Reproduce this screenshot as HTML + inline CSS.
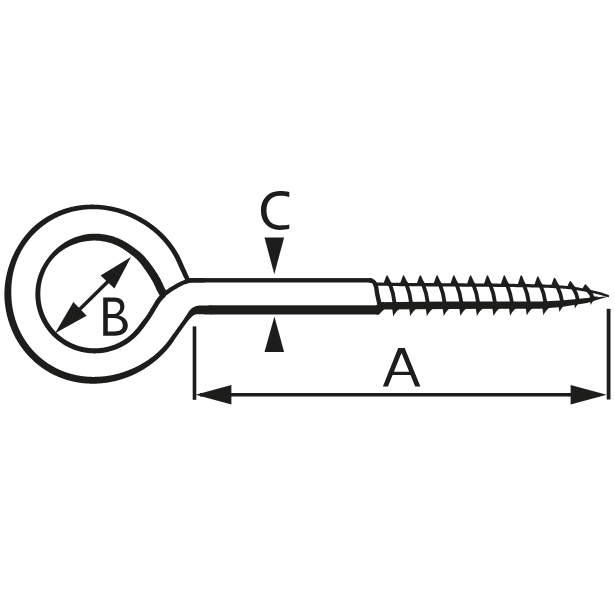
<!DOCTYPE html>
<html><head><meta charset="utf-8"><style>
html,body{margin:0;padding:0;background:#fff;}
body{width:615px;height:615px;overflow:hidden;}
svg{display:block;}
text{font-family:"Liberation Sans",sans-serif;fill:#1d1d1b;}
</style></head><body>
<svg width="615" height="615" viewBox="0 0 615 615">
<rect width="615" height="615" fill="#fff"/>
<g fill="#1d1d1b">
<path d="M190.37,279.99 L189.99,279.18 L189.69,278.53 L189.43,277.95 L189.17,277.39 L188.89,276.79 L188.63,276.24 L188.39,275.70 L188.15,275.19 L187.92,274.68 L187.68,274.17 L187.45,273.65 L187.22,273.14 L186.99,272.63 L186.76,272.13 L186.52,271.61 L186.28,271.08 L186.04,270.54 L185.79,270.00 L185.54,269.45 L185.29,268.89 L185.04,268.33 L184.79,267.78 L184.55,267.24 L184.31,266.71 L184.08,266.20 L183.85,265.69 L183.63,265.19 L183.41,264.70 L183.19,264.21 L182.98,263.74 L182.76,263.26 L182.55,262.78 L182.34,262.30 L182.12,261.82 L181.90,261.33 L181.69,260.85 L181.47,260.36 L181.25,259.87 L181.02,259.38 L180.79,258.88 L180.55,258.37 L180.31,257.86 L180.05,257.33 L179.79,256.80 L179.53,256.28 L179.26,255.76 L178.99,255.22 L178.69,254.68 L178.39,254.12 L178.07,253.56 L177.75,253.01 L177.44,252.47 L177.12,251.94 L176.80,251.41 L176.47,250.87 L176.15,250.36 L175.85,249.87 L175.55,249.40 L175.26,248.95 L174.96,248.51 L174.67,248.07 L174.37,247.62 L174.07,247.19 L173.77,246.75 L173.47,246.31 L173.16,245.88 L172.85,245.45 L172.54,245.02 L172.23,244.59 L171.91,244.16 L171.59,243.74 L171.27,243.32 L170.95,242.90 L170.62,242.48 L170.30,242.07 L169.97,241.65 L169.63,241.24 L169.30,240.83 L168.96,240.43 L168.62,240.02 L168.28,239.62 L167.94,239.22 L167.59,238.82 L167.25,238.42 L166.90,238.03 L166.54,237.64 L166.19,237.25 L165.84,236.86 L165.48,236.47 L165.12,236.09 L164.76,235.71 L164.39,235.33 L164.03,234.95 L163.66,234.58 L163.29,234.20 L162.92,233.83 L162.54,233.47 L162.17,233.10 L161.79,232.74 L161.41,232.37 L161.03,232.01 L160.65,231.66 L160.27,231.30 L159.88,230.95 L159.49,230.60 L159.10,230.25 L158.71,229.90 L158.32,229.56 L157.92,229.22 L157.53,228.88 L157.13,228.54 L156.73,228.20 L156.33,227.87 L155.93,227.54 L155.52,227.21 L155.12,226.88 L154.71,226.56 L154.30,226.24 L153.89,225.92 L153.48,225.60 L153.06,225.29 L152.65,224.97 L152.23,224.66 L151.81,224.35 L151.39,224.05 L150.97,223.74 L150.55,223.44 L150.13,223.14 L149.70,222.84 L149.27,222.55 L148.84,222.26 L148.41,221.96 L147.98,221.68 L147.55,221.39 L147.12,221.11 L146.68,220.82 L146.25,220.55 L145.81,220.27 L145.37,219.99 L144.93,219.72 L144.49,219.45 L144.04,219.18 L143.60,218.92 L143.16,218.65 L142.71,218.39 L142.26,218.13 L141.81,217.88 L141.36,217.62 L140.91,217.37 L140.46,217.12 L140.00,216.88 L139.55,216.63 L139.09,216.39 L138.63,216.15 L138.17,215.91 L137.71,215.67 L137.25,215.44 L136.79,215.21 L136.33,214.98 L135.86,214.75 L135.40,214.53 L134.93,214.31 L134.46,214.09 L134.00,213.87 L133.53,213.66 L133.06,213.45 L132.58,213.24 L132.11,213.03 L131.64,212.82 L131.16,212.62 L130.69,212.42 L130.21,212.22 L129.73,212.03 L129.25,211.83 L128.77,211.64 L128.29,211.45 L127.81,211.27 L127.33,211.08 L126.84,210.90 L126.36,210.72 L125.87,210.55 L125.38,210.37 L124.90,210.20 L124.41,210.03 L123.92,209.87 L123.43,209.70 L122.94,209.54 L122.44,209.38 L121.95,209.23 L121.46,209.07 L120.96,208.92 L120.47,208.77 L119.97,208.62 L119.47,208.48 L118.98,208.34 L118.48,208.20 L117.98,208.06 L117.48,207.93 L116.98,207.80 L116.48,207.67 L115.97,207.54 L115.47,207.42 L114.96,207.30 L114.46,207.18 L113.95,207.06 L113.45,206.95 L112.94,206.84 L112.43,206.73 L111.93,206.62 L111.42,206.52 L110.91,206.42 L110.40,206.32 L109.89,206.23 L109.37,206.14 L108.86,206.05 L108.35,205.96 L107.84,205.88 L107.32,205.79 L106.81,205.72 L106.29,205.64 L105.78,205.57 L105.26,205.50 L104.74,205.43 L104.23,205.36 L103.71,205.30 L103.19,205.24 L102.67,205.18 L102.15,205.13 L101.63,205.08 L101.11,205.03 L100.59,204.99 L100.07,204.94 L99.55,204.90 L99.03,204.86 L98.51,204.83 L97.98,204.79 L97.46,204.76 L96.94,204.74 L96.42,204.71 L95.89,204.69 L95.37,204.67 L94.84,204.65 L94.32,204.64 L93.80,204.62 L93.27,204.62 L92.75,204.61 L92.22,204.61 L91.69,204.61 L91.17,204.61 L90.64,204.61 L90.12,204.62 L89.59,204.63 L89.06,204.65 L88.54,204.67 L88.01,204.69 L87.48,204.71 L86.96,204.74 L86.43,204.76 L85.90,204.80 L85.38,204.83 L84.85,204.87 L84.32,204.91 L83.80,204.96 L83.27,205.01 L82.74,205.06 L82.22,205.11 L81.69,205.17 L81.16,205.23 L80.64,205.29 L80.11,205.36 L79.59,205.43 L79.06,205.50 L78.54,205.58 L78.01,205.66 L77.49,205.74 L76.96,205.83 L76.44,205.91 L75.91,206.01 L75.39,206.10 L74.87,206.20 L74.35,206.30 L73.82,206.41 L73.30,206.51 L72.78,206.63 L72.26,206.74 L71.74,206.86 L71.22,206.98 L70.70,207.10 L70.18,207.23 L69.66,207.36 L69.15,207.49 L68.63,207.63 L68.12,207.77 L67.60,207.91 L67.09,208.06 L66.57,208.21 L66.06,208.36 L65.55,208.52 L65.04,208.68 L64.53,208.84 L64.02,209.01 L63.51,209.18 L63.00,209.35 L62.49,209.53 L61.99,209.71 L61.48,209.89 L60.98,210.07 L60.47,210.26 L59.97,210.45 L59.47,210.65 L58.97,210.85 L58.47,211.05 L57.98,211.25 L57.48,211.46 L56.98,211.67 L56.49,211.89 L56.00,212.10 L55.51,212.32 L55.02,212.55 L54.53,212.77 L54.04,213.00 L53.55,213.24 L53.07,213.47 L52.58,213.71 L52.10,213.96 L51.62,214.20 L51.14,214.45 L50.67,214.70 L50.19,214.96 L49.71,215.22 L49.24,215.48 L48.77,215.74 L48.30,216.01 L47.83,216.28 L47.37,216.55 L46.90,216.83 L46.44,217.11 L45.98,217.39 L45.52,217.68 L45.06,217.97 L44.60,218.26 L44.15,218.55 L43.70,218.85 L43.24,219.15 L42.80,219.46 L42.35,219.76 L41.90,220.07 L41.46,220.38 L41.02,220.70 L40.58,221.02 L40.14,221.34 L39.71,221.66 L39.27,221.99 L38.84,222.32 L38.41,222.65 L37.99,222.98 L37.56,223.32 L37.14,223.66 L36.72,224.01 L36.30,224.35 L35.88,224.70 L35.47,225.05 L35.06,225.41 L34.65,225.77 L34.24,226.13 L33.84,226.49 L33.44,226.86 L33.04,227.23 L32.65,227.60 L32.25,227.98 L31.86,228.36 L31.48,228.74 L31.09,229.12 L30.71,229.51 L30.33,229.90 L29.95,230.29 L29.58,230.68 L29.21,231.08 L28.84,231.48 L28.47,231.88 L28.11,232.28 L27.75,232.69 L27.39,233.10 L27.03,233.51 L26.68,233.92 L26.32,234.33 L25.98,234.75 L25.63,235.17 L25.29,235.59 L24.95,236.01 L24.61,236.44 L24.27,236.87 L23.94,237.29 L23.61,237.73 L23.28,238.16 L22.96,238.60 L22.64,239.03 L22.32,239.47 L22.00,239.91 L21.69,240.36 L21.38,240.80 L21.07,241.25 L20.77,241.70 L20.46,242.15 L20.16,242.60 L19.87,243.06 L19.57,243.51 L19.28,243.97 L19.00,244.43 L18.71,244.89 L18.43,245.36 L18.15,245.82 L17.87,246.29 L17.59,246.75 L17.32,247.22 L17.05,247.69 L16.78,248.16 L16.51,248.63 L16.24,249.10 L15.98,249.58 L15.72,250.06 L15.46,250.53 L15.21,251.01 L14.96,251.49 L14.71,251.97 L14.46,252.46 L14.22,252.94 L13.98,253.43 L13.74,253.91 L13.51,254.40 L13.27,254.89 L13.05,255.38 L12.82,255.88 L12.60,256.37 L12.38,256.87 L12.16,257.36 L11.94,257.86 L11.73,258.36 L11.52,258.86 L11.32,259.36 L11.12,259.86 L10.92,260.37 L10.72,260.87 L10.53,261.38 L10.34,261.89 L10.15,262.40 L9.97,262.91 L9.78,263.42 L9.61,263.93 L9.43,264.44 L9.26,264.95 L9.09,265.47 L8.92,265.98 L8.76,266.50 L8.60,267.02 L8.44,267.54 L8.29,268.06 L8.14,268.58 L7.99,269.10 L7.84,269.62 L7.70,270.14 L7.56,270.67 L7.42,271.19 L7.29,271.71 L7.15,272.24 L7.02,272.77 L6.90,273.29 L6.77,273.82 L6.65,274.35 L6.54,274.88 L6.42,275.41 L6.31,275.94 L6.20,276.47 L6.10,277.00 L5.99,277.53 L5.90,278.06 L5.80,278.60 L5.71,279.13 L5.62,279.67 L5.53,280.20 L5.45,280.74 L5.36,281.27 L5.29,281.81 L5.21,282.35 L5.14,282.88 L5.07,283.42 L5.01,283.96 L4.94,284.50 L4.89,285.04 L4.83,285.58 L4.78,286.12 L4.73,286.66 L4.68,287.20 L4.64,287.74 L4.60,288.28 L4.56,288.82 L4.53,289.36 L4.50,289.90 L4.47,290.44 L4.45,290.98 L4.43,291.53 L4.41,292.07 L4.40,292.61 L4.39,293.15 L4.39,293.69 L4.38,294.24 L4.38,294.78 L4.39,295.32 L4.40,295.86 L4.41,296.41 L4.43,296.95 L4.45,297.49 L4.47,298.03 L4.50,298.57 L4.53,299.11 L4.57,299.66 L4.61,300.20 L4.65,300.74 L4.69,301.28 L4.74,301.82 L4.79,302.36 L4.84,302.90 L4.90,303.44 L4.96,303.98 L5.02,304.51 L5.09,305.05 L5.16,305.59 L5.23,306.13 L5.30,306.66 L5.38,307.20 L5.46,307.74 L5.55,308.27 L5.63,308.81 L5.72,309.34 L5.82,309.88 L5.91,310.41 L6.01,310.94 L6.11,311.47 L6.22,312.01 L6.33,312.54 L6.44,313.07 L6.55,313.60 L6.67,314.13 L6.79,314.66 L6.92,315.18 L7.04,315.71 L7.17,316.24 L7.30,316.76 L7.44,317.29 L7.58,317.81 L7.72,318.34 L7.87,318.86 L8.01,319.38 L8.16,319.90 L8.32,320.42 L8.48,320.94 L8.64,321.46 L8.80,321.98 L8.96,322.49 L9.13,323.01 L9.31,323.52 L9.48,324.04 L9.66,324.55 L9.84,325.06 L10.02,325.57 L10.21,326.08 L10.40,326.59 L10.59,327.10 L10.79,327.60 L10.99,328.11 L11.19,328.61 L11.40,329.11 L11.60,329.62 L11.81,330.12 L12.03,330.62 L12.24,331.11 L12.46,331.61 L12.69,332.10 L12.91,332.60 L13.14,333.09 L13.37,333.58 L13.61,334.07 L13.84,334.56 L14.08,335.05 L14.33,335.53 L14.57,336.02 L14.82,336.50 L15.07,336.98 L15.33,337.46 L15.59,337.94 L15.85,338.42 L16.11,338.89 L16.38,339.37 L16.65,339.84 L16.92,340.31 L17.19,340.78 L17.47,341.24 L17.75,341.71 L18.04,342.17 L18.32,342.63 L18.61,343.09 L18.90,343.55 L19.20,344.01 L19.49,344.46 L19.79,344.92 L20.10,345.37 L20.40,345.82 L20.71,346.27 L21.02,346.71 L21.34,347.16 L21.65,347.60 L21.97,348.04 L22.29,348.48 L22.62,348.91 L22.95,349.35 L23.28,349.78 L23.61,350.21 L23.94,350.63 L24.28,351.06 L24.62,351.48 L24.97,351.91 L25.31,352.33 L25.66,352.74 L26.01,353.16 L26.36,353.57 L26.72,353.98 L27.08,354.39 L27.44,354.80 L27.80,355.20 L28.17,355.60 L28.54,356.00 L28.91,356.40 L29.28,356.79 L29.66,357.18 L30.04,357.57 L30.42,357.96 L30.80,358.35 L31.19,358.73 L31.58,359.11 L31.97,359.49 L32.36,359.86 L32.75,360.24 L33.15,360.61 L33.55,360.97 L33.95,361.34 L34.36,361.70 L34.76,362.06 L35.17,362.42 L35.58,362.78 L36.00,363.13 L36.41,363.48 L36.83,363.82 L37.25,364.17 L37.67,364.51 L38.09,364.85 L38.52,365.19 L38.95,365.52 L39.38,365.85 L39.81,366.18 L40.24,366.50 L40.68,366.83 L41.12,367.15 L41.56,367.46 L42.00,367.78 L42.44,368.09 L42.89,368.40 L43.33,368.70 L43.78,369.01 L44.23,369.31 L44.69,369.60 L45.14,369.90 L45.60,370.19 L46.06,370.48 L46.52,370.76 L46.98,371.04 L47.44,371.32 L47.91,371.60 L48.37,371.87 L48.84,372.14 L49.31,372.41 L49.78,372.67 L50.26,372.93 L50.73,373.19 L51.21,373.45 L51.69,373.70 L52.17,373.95 L52.65,374.19 L53.13,374.44 L53.61,374.68 L54.10,374.91 L54.59,375.15 L55.07,375.38 L55.56,375.60 L56.05,375.83 L56.55,376.05 L57.04,376.26 L57.53,376.48 L58.03,376.69 L58.52,376.90 L59.02,377.10 L59.52,377.31 L60.02,377.50 L60.52,377.70 L61.02,377.89 L61.53,378.08 L62.03,378.27 L62.54,378.45 L63.04,378.63 L63.55,378.81 L64.06,378.98 L64.57,379.15 L65.08,379.32 L65.59,379.48 L66.10,379.64 L66.61,379.80 L67.13,379.96 L67.64,380.11 L68.16,380.25 L68.67,380.40 L69.19,380.54 L69.70,380.68 L70.22,380.82 L70.74,380.95 L71.26,381.08 L71.78,381.20 L72.30,381.33 L72.82,381.45 L73.34,381.56 L73.86,381.68 L74.38,381.79 L74.91,381.89 L75.43,382.00 L75.95,382.10 L76.48,382.20 L77.00,382.29 L77.53,382.38 L78.05,382.47 L78.58,382.56 L79.10,382.64 L79.63,382.72 L80.16,382.79 L80.68,382.87 L81.21,382.94 L81.74,383.00 L82.26,383.07 L82.79,383.13 L83.32,383.18 L83.85,383.24 L84.38,383.29 L84.90,383.34 L85.43,383.38 L85.96,383.42 L86.49,383.46 L87.02,383.50 L87.54,383.53 L88.07,383.56 L88.60,383.59 L89.13,383.61 L89.66,383.63 L90.19,383.65 L90.71,383.67 L91.24,383.68 L91.77,383.69 L92.30,383.69 L92.83,383.70 L93.35,383.70 L93.88,383.69 L94.41,383.69 L94.93,383.68 L95.46,383.67 L95.99,383.65 L96.51,383.63 L97.04,383.61 L97.56,383.59 L98.09,383.56 L98.61,383.53 L99.14,383.50 L99.66,383.46 L100.19,383.42 L100.71,383.37 L101.23,383.33 L101.76,383.28 L102.28,383.23 L102.80,383.17 L103.32,383.12 L103.84,383.06 L104.36,382.99 L104.88,382.93 L105.40,382.86 L105.92,382.79 L106.44,382.71 L106.95,382.64 L107.47,382.56 L107.99,382.48 L108.50,382.39 L109.02,382.30 L109.53,382.21 L110.05,382.12 L110.56,382.02 L111.07,381.93 L111.59,381.83 L112.10,381.72 L112.61,381.62 L113.12,381.51 L113.63,381.40 L114.14,381.28 L114.64,381.16 L115.15,381.05 L115.66,380.92 L116.16,380.80 L116.67,380.67 L117.17,380.54 L117.68,380.41 L118.18,380.28 L118.68,380.14 L119.18,380.00 L119.68,379.86 L120.18,379.71 L120.68,379.56 L121.18,379.41 L121.68,379.26 L122.17,379.10 L122.67,378.95 L123.16,378.79 L123.66,378.62 L124.15,378.46 L124.64,378.29 L125.13,378.12 L125.62,377.95 L126.11,377.77 L126.60,377.59 L127.08,377.41 L127.57,377.23 L128.05,377.04 L128.54,376.85 L129.02,376.65 L129.50,376.46 L129.98,376.26 L130.46,376.06 L130.94,375.85 L131.41,375.65 L131.89,375.44 L132.36,375.23 L132.83,375.01 L133.31,374.80 L133.78,374.58 L134.25,374.36 L134.72,374.14 L135.18,373.91 L135.65,373.68 L136.11,373.45 L136.58,373.22 L137.04,372.99 L137.50,372.75 L137.96,372.51 L138.42,372.27 L138.88,372.02 L139.34,371.78 L139.79,371.53 L140.25,371.28 L140.70,371.02 L141.15,370.77 L141.60,370.51 L142.05,370.25 L142.50,369.98 L142.95,369.72 L143.39,369.45 L143.84,369.18 L144.28,368.91 L144.72,368.64 L145.16,368.36 L145.60,368.08 L146.04,367.80 L146.48,367.52 L146.91,367.23 L147.34,366.94 L147.78,366.65 L148.21,366.36 L148.63,366.06 L149.06,365.77 L149.49,365.47 L149.91,365.17 L150.34,364.86 L150.76,364.56 L151.18,364.25 L151.60,363.94 L152.01,363.62 L152.43,363.31 L152.84,362.99 L153.26,362.67 L153.67,362.35 L154.08,362.03 L154.49,361.70 L154.89,361.37 L155.30,361.04 L155.70,360.71 L156.10,360.38 L156.50,360.04 L156.90,359.71 L157.30,359.37 L157.70,359.02 L158.09,358.68 L158.48,358.33 L158.87,357.98 L159.26,357.63 L159.65,357.28 L160.03,356.92 L160.42,356.56 L160.80,356.20 L161.18,355.84 L161.55,355.48 L161.93,355.11 L162.30,354.74 L162.68,354.37 L163.05,354.00 L163.41,353.62 L163.78,353.24 L164.14,352.86 L164.51,352.48 L164.87,352.10 L165.22,351.71 L165.58,351.32 L165.93,350.93 L166.28,350.54 L166.63,350.14 L166.98,349.75 L167.33,349.35 L167.67,348.95 L168.01,348.54 L168.35,348.14 L168.68,347.73 L169.02,347.32 L169.35,346.91 L169.68,346.50 L170.01,346.08 L170.33,345.66 L170.65,345.24 L170.97,344.82 L171.29,344.39 L171.61,343.96 L171.92,343.53 L172.24,343.09 L172.54,342.66 L172.85,342.21 L173.15,341.77 L173.45,341.33 L173.74,340.89 L174.03,340.45 L174.32,340.01 L174.60,339.58 L174.89,339.15 L175.18,338.71 L175.48,338.27 L175.78,337.83 L176.09,337.38 L176.41,336.92 L176.74,336.44 L177.09,335.95 L177.45,335.45 L177.80,334.95 L178.15,334.46 L178.50,333.98 L178.85,333.49 L179.19,333.02 L179.52,332.56 L179.84,332.11 L180.16,331.67 L180.47,331.24 L180.78,330.80 L181.09,330.37 L181.41,329.93 L181.72,329.48 L182.04,329.04 L182.37,328.59 L182.69,328.14 L183.01,327.69 L183.34,327.23 L183.66,326.78 L183.98,326.33 L184.31,325.88 L184.63,325.44 L184.95,324.99 L185.26,324.55 L185.58,324.12 L185.89,323.68 L186.21,323.25 L186.53,322.82 L186.85,322.40 L187.17,321.98 L187.50,321.56 L187.83,321.15 L188.16,320.74 L188.51,320.32 L188.87,319.91 L189.24,319.48 L189.63,319.05 L190.04,318.61 L190.48,318.15 L190.93,317.70 L191.40,317.24 L191.88,316.78 L192.36,316.35 L192.84,315.95 L193.31,315.59 L193.78,315.28 L194.22,315.02 L194.64,314.81 L195.05,314.65 L195.45,314.52 L195.85,314.42 L196.27,314.35 L196.70,314.30 L197.15,314.25 L197.61,314.22 L198.10,314.20 L198.61,314.19 L199.13,314.19 L199.65,314.19 L200.16,314.21 L200.67,314.22 L201.20,314.24 L201.73,314.27 L202.27,314.30 L202.81,314.32 L203.35,314.35 L203.89,314.37 L204.44,314.38 L205.00,314.40 L205.56,314.41 L206.12,314.41 L206.67,314.42 L207.22,314.42 L207.77,314.42 L208.32,314.42 L208.90,314.43 L209.50,314.43 L210.07,314.44 L210.64,314.44 L211.26,314.44 L212.00,314.45 L212.00,305.35 L211.26,305.36 L210.64,305.36 L210.07,305.36 L209.50,305.37 L208.90,305.37 L208.32,305.37 L207.77,305.38 L207.22,305.38 L206.67,305.38 L206.13,305.39 L205.60,305.39 L205.07,305.39 L204.54,305.40 L204.03,305.40 L203.52,305.40 L203.00,305.40 L202.45,305.40 L201.85,305.41 L201.20,305.42 L200.52,305.44 L199.79,305.49 L199.04,305.57 L198.26,305.68 L197.46,305.83 L196.62,306.03 L195.79,306.28 L194.96,306.58 L194.14,306.93 L193.35,307.34 L192.58,307.80 L191.85,308.31 L191.15,308.86 L190.52,309.46 L189.93,310.08 L189.40,310.72 L188.91,311.37 L188.46,312.02 L188.04,312.65 L187.65,313.27 L187.26,313.89 L186.89,314.47 L186.53,315.04 L186.18,315.59 L185.84,316.11 L185.51,316.62 L185.18,317.11 L184.87,317.60 L184.56,318.06 L184.26,318.51 L183.95,318.96 L183.65,319.40 L183.34,319.84 L183.04,320.28 L182.73,320.72 L182.41,321.16 L182.10,321.60 L181.78,322.04 L181.46,322.48 L181.14,322.92 L180.82,323.37 L180.49,323.82 L180.17,324.28 L179.84,324.73 L179.52,325.18 L179.19,325.63 L178.87,326.08 L178.55,326.53 L178.23,326.98 L177.91,327.42 L177.60,327.86 L177.28,328.30 L176.97,328.73 L176.66,329.16 L176.35,329.60 L176.03,330.04 L175.70,330.50 L175.36,330.96 L175.01,331.44 L174.65,331.92 L174.30,332.40 L173.93,332.90 L173.56,333.40 L173.20,333.89 L172.85,334.37 L172.51,334.84 L172.17,335.30 L171.85,335.75 L171.54,336.20 L171.22,336.65 L170.92,337.08 L170.62,337.51 L170.33,337.94 L170.03,338.36 L169.74,338.78 L169.44,339.19 L169.15,339.60 L168.85,340.01 L168.55,340.42 L168.25,340.82 L167.95,341.22 L167.64,341.61 L167.33,342.01 L167.02,342.40 L166.70,342.79 L166.38,343.18 L166.06,343.56 L165.74,343.95 L165.42,344.33 L165.09,344.71 L164.76,345.09 L164.43,345.46 L164.10,345.84 L163.76,346.21 L163.43,346.58 L163.09,346.95 L162.75,347.31 L162.41,347.68 L162.06,348.04 L161.71,348.40 L161.37,348.76 L161.02,349.11 L160.66,349.47 L160.31,349.82 L159.95,350.17 L159.60,350.52 L159.24,350.86 L158.88,351.20 L158.51,351.54 L158.15,351.88 L157.78,352.22 L157.41,352.55 L157.04,352.89 L156.67,353.22 L156.30,353.54 L155.92,353.87 L155.55,354.19 L155.17,354.51 L154.79,354.83 L154.41,355.15 L154.03,355.46 L153.64,355.78 L153.26,356.09 L152.87,356.40 L152.48,356.70 L152.09,357.01 L151.69,357.31 L151.30,357.60 L150.90,357.90 L150.51,358.19 L150.11,358.49 L149.71,358.77 L149.30,359.06 L148.90,359.35 L148.50,359.63 L148.09,359.91 L147.68,360.19 L147.27,360.46 L146.86,360.73 L146.45,361.01 L146.04,361.27 L145.62,361.54 L145.21,361.80 L144.79,362.07 L144.37,362.33 L143.95,362.58 L143.53,362.84 L143.11,363.09 L142.69,363.34 L142.27,363.59 L141.84,363.84 L141.41,364.08 L140.99,364.32 L140.56,364.56 L140.13,364.80 L139.70,365.03 L139.27,365.26 L138.83,365.49 L138.40,365.72 L137.96,365.95 L137.53,366.17 L137.09,366.39 L136.65,366.61 L136.21,366.83 L135.77,367.04 L135.33,367.25 L134.89,367.46 L134.45,367.67 L134.00,367.88 L133.56,368.08 L133.11,368.28 L132.66,368.48 L132.22,368.67 L131.77,368.87 L131.32,369.06 L130.87,369.25 L130.42,369.43 L129.97,369.62 L129.51,369.80 L129.06,369.98 L128.60,370.16 L128.15,370.33 L127.69,370.51 L127.23,370.68 L126.78,370.85 L126.32,371.01 L125.86,371.18 L125.40,371.34 L124.94,371.50 L124.48,371.66 L124.02,371.82 L123.56,371.98 L123.09,372.13 L122.63,372.28 L122.17,372.43 L121.70,372.58 L121.24,372.72 L120.77,372.86 L120.30,373.00 L119.83,373.14 L119.37,373.27 L118.90,373.41 L118.43,373.54 L117.96,373.66 L117.49,373.79 L117.01,373.91 L116.54,374.03 L116.07,374.15 L115.60,374.27 L115.12,374.38 L114.65,374.49 L114.17,374.60 L113.70,374.71 L113.22,374.81 L112.74,374.91 L112.27,375.01 L111.79,375.11 L111.31,375.20 L110.83,375.29 L110.35,375.38 L109.87,375.47 L109.39,375.55 L108.91,375.63 L108.43,375.71 L107.95,375.79 L107.47,375.86 L106.98,375.93 L106.50,376.00 L106.02,376.06 L105.53,376.13 L105.05,376.19 L104.56,376.25 L104.08,376.30 L103.59,376.36 L103.11,376.41 L102.62,376.45 L102.14,376.50 L101.65,376.54 L101.16,376.58 L100.68,376.62 L100.19,376.65 L99.70,376.69 L99.21,376.72 L98.73,376.74 L98.24,376.77 L97.75,376.79 L97.26,376.81 L96.77,376.83 L96.29,376.84 L95.80,376.86 L95.31,376.87 L94.82,376.88 L94.33,376.88 L93.84,376.88 L93.35,376.88 L92.86,376.88 L92.37,376.88 L91.88,376.87 L91.39,376.86 L90.90,376.84 L90.41,376.83 L89.92,376.81 L89.43,376.79 L88.94,376.76 L88.46,376.74 L87.97,376.71 L87.48,376.67 L86.99,376.64 L86.50,376.60 L86.01,376.56 L85.52,376.51 L85.03,376.47 L84.54,376.42 L84.06,376.37 L83.57,376.31 L83.08,376.25 L82.59,376.19 L82.10,376.13 L81.62,376.06 L81.13,375.99 L80.65,375.92 L80.16,375.84 L79.67,375.77 L79.19,375.69 L78.70,375.60 L78.22,375.51 L77.74,375.43 L77.25,375.33 L76.77,375.24 L76.29,375.14 L75.80,375.04 L75.32,374.93 L74.84,374.83 L74.36,374.72 L73.88,374.61 L73.40,374.49 L72.92,374.37 L72.44,374.25 L71.97,374.13 L71.49,374.00 L71.01,373.87 L70.54,373.74 L70.06,373.60 L69.59,373.46 L69.12,373.32 L68.65,373.18 L68.17,373.03 L67.70,372.88 L67.23,372.72 L66.76,372.57 L66.30,372.41 L65.83,372.25 L65.36,372.08 L64.90,371.92 L64.43,371.75 L63.97,371.57 L63.51,371.40 L63.05,371.22 L62.59,371.03 L62.13,370.85 L61.67,370.66 L61.21,370.47 L60.75,370.28 L60.30,370.08 L59.85,369.88 L59.39,369.68 L58.94,369.48 L58.49,369.27 L58.04,369.06 L57.59,368.84 L57.15,368.63 L56.70,368.41 L56.26,368.19 L55.82,367.96 L55.37,367.74 L54.93,367.51 L54.50,367.28 L54.06,367.04 L53.62,366.80 L53.19,366.56 L52.76,366.32 L52.32,366.07 L51.89,365.82 L51.47,365.57 L51.04,365.32 L50.61,365.06 L50.19,364.80 L49.77,364.54 L49.34,364.27 L48.92,364.01 L48.51,363.74 L48.09,363.46 L47.68,363.19 L47.26,362.91 L46.85,362.63 L46.44,362.35 L46.04,362.06 L45.63,361.77 L45.23,361.48 L44.82,361.19 L44.42,360.89 L44.02,360.59 L43.63,360.29 L43.23,359.99 L42.84,359.68 L42.45,359.37 L42.06,359.06 L41.67,358.74 L41.29,358.43 L40.90,358.11 L40.52,357.79 L40.14,357.46 L39.76,357.14 L39.39,356.81 L39.02,356.48 L38.64,356.15 L38.27,355.81 L37.91,355.47 L37.54,355.13 L37.18,354.79 L36.82,354.44 L36.46,354.10 L36.10,353.75 L35.75,353.39 L35.40,353.04 L35.05,352.68 L34.70,352.33 L34.35,351.96 L34.01,351.60 L33.67,351.24 L33.33,350.87 L32.99,350.50 L32.66,350.13 L32.32,349.75 L31.99,349.38 L31.67,349.00 L31.34,348.62 L31.02,348.24 L30.70,347.86 L30.38,347.47 L30.06,347.08 L29.75,346.69 L29.44,346.30 L29.13,345.91 L28.82,345.51 L28.52,345.11 L28.22,344.71 L27.92,344.31 L27.62,343.91 L27.33,343.50 L27.04,343.10 L26.75,342.69 L26.46,342.28 L26.18,341.86 L25.90,341.45 L25.62,341.03 L25.34,340.62 L25.07,340.20 L24.80,339.78 L24.53,339.35 L24.26,338.93 L24.00,338.50 L23.74,338.08 L23.48,337.65 L23.22,337.22 L22.97,336.78 L22.72,336.35 L22.47,335.92 L22.22,335.48 L21.98,335.04 L21.74,334.60 L21.50,334.16 L21.27,333.72 L21.03,333.27 L20.80,332.83 L20.58,332.38 L20.35,331.93 L20.13,331.48 L19.91,331.03 L19.70,330.58 L19.48,330.13 L19.27,329.67 L19.06,329.22 L18.86,328.76 L18.65,328.30 L18.45,327.84 L18.26,327.38 L18.06,326.92 L17.87,326.45 L17.68,325.99 L17.49,325.52 L17.31,325.06 L17.13,324.59 L16.95,324.12 L16.77,323.65 L16.60,323.18 L16.43,322.71 L16.26,322.23 L16.10,321.76 L15.94,321.29 L15.78,320.81 L15.62,320.33 L15.47,319.85 L15.32,319.38 L15.17,318.90 L15.02,318.42 L14.88,317.94 L14.74,317.45 L14.61,316.97 L14.47,316.49 L14.34,316.00 L14.21,315.52 L14.09,315.03 L13.96,314.54 L13.84,314.06 L13.73,313.57 L13.61,313.08 L13.50,312.59 L13.39,312.10 L13.29,311.61 L13.18,311.12 L13.08,310.63 L12.98,310.13 L12.89,309.64 L12.80,309.15 L12.71,308.65 L12.62,308.16 L12.54,307.66 L12.46,307.17 L12.38,306.67 L12.30,306.17 L12.23,305.68 L12.16,305.18 L12.10,304.68 L12.03,304.18 L11.97,303.69 L11.91,303.19 L11.86,302.69 L11.81,302.19 L11.76,301.69 L11.71,301.19 L11.67,300.69 L11.63,300.19 L11.59,299.68 L11.55,299.18 L11.52,298.68 L11.49,298.18 L11.46,297.68 L11.44,297.18 L11.41,296.67 L11.39,296.17 L11.37,295.67 L11.36,295.17 L11.34,294.66 L11.33,294.16 L11.32,293.66 L11.31,293.16 L11.30,292.65 L11.30,292.15 L11.30,291.65 L11.30,291.14 L11.31,290.64 L11.32,290.14 L11.32,289.63 L11.34,289.13 L11.35,288.63 L11.37,288.12 L11.39,287.62 L11.41,287.12 L11.43,286.61 L11.46,286.11 L11.49,285.61 L11.53,285.10 L11.56,284.60 L11.60,284.10 L11.64,283.59 L11.69,283.09 L11.74,282.59 L11.79,282.09 L11.84,281.58 L11.90,281.08 L11.96,280.58 L12.02,280.08 L12.09,279.58 L12.15,279.08 L12.22,278.58 L12.30,278.08 L12.38,277.58 L12.46,277.08 L12.54,276.58 L12.62,276.08 L12.71,275.58 L12.80,275.08 L12.90,274.59 L12.99,274.09 L13.10,273.59 L13.20,273.10 L13.31,272.60 L13.42,272.11 L13.53,271.61 L13.65,271.12 L13.77,270.63 L13.89,270.14 L14.01,269.65 L14.14,269.16 L14.28,268.67 L14.41,268.18 L14.55,267.69 L14.69,267.20 L14.83,266.71 L14.98,266.23 L15.13,265.74 L15.28,265.26 L15.44,264.78 L15.59,264.29 L15.76,263.81 L15.92,263.33 L16.09,262.85 L16.26,262.37 L16.43,261.90 L16.60,261.42 L16.78,260.94 L16.96,260.47 L17.15,259.99 L17.34,259.52 L17.53,259.05 L17.72,258.58 L17.91,258.11 L18.11,257.64 L18.31,257.17 L18.52,256.71 L18.72,256.24 L18.93,255.78 L19.15,255.32 L19.36,254.86 L19.58,254.40 L19.80,253.94 L20.03,253.48 L20.26,253.03 L20.49,252.57 L20.72,252.12 L20.96,251.67 L21.20,251.22 L21.44,250.77 L21.69,250.33 L21.94,249.88 L22.19,249.44 L22.45,249.00 L22.71,248.56 L22.97,248.13 L23.24,247.69 L23.51,247.26 L23.79,246.83 L24.06,246.40 L24.34,245.98 L24.62,245.55 L24.91,245.13 L25.19,244.71 L25.48,244.29 L25.77,243.87 L26.07,243.46 L26.37,243.04 L26.66,242.63 L26.97,242.22 L27.27,241.81 L27.58,241.40 L27.89,241.00 L28.20,240.60 L28.52,240.20 L28.83,239.80 L29.15,239.40 L29.48,239.01 L29.80,238.62 L30.13,238.23 L30.46,237.84 L30.79,237.45 L31.12,237.07 L31.46,236.69 L31.80,236.31 L32.14,235.93 L32.49,235.56 L32.83,235.18 L33.18,234.81 L33.53,234.45 L33.88,234.08 L34.24,233.72 L34.60,233.35 L34.96,233.00 L35.32,232.64 L35.69,232.28 L36.05,231.93 L36.42,231.58 L36.79,231.23 L37.16,230.89 L37.54,230.54 L37.91,230.20 L38.29,229.86 L38.67,229.52 L39.05,229.19 L39.43,228.85 L39.82,228.52 L40.20,228.19 L40.59,227.86 L40.98,227.54 L41.38,227.22 L41.77,226.90 L42.17,226.58 L42.57,226.27 L42.97,225.95 L43.37,225.64 L43.78,225.34 L44.18,225.03 L44.59,224.73 L45.00,224.43 L45.42,224.14 L45.83,223.84 L46.25,223.55 L46.67,223.27 L47.08,222.98 L47.51,222.70 L47.93,222.42 L48.36,222.14 L48.78,221.87 L49.21,221.60 L49.64,221.33 L50.07,221.06 L50.51,220.80 L50.94,220.54 L51.38,220.28 L51.82,220.03 L52.26,219.77 L52.70,219.53 L53.14,219.28 L53.59,219.04 L54.03,218.80 L54.48,218.56 L54.93,218.32 L55.38,218.09 L55.83,217.86 L56.29,217.64 L56.74,217.41 L57.20,217.19 L57.65,216.98 L58.11,216.76 L58.57,216.55 L59.03,216.34 L59.50,216.14 L59.96,215.94 L60.42,215.74 L60.89,215.54 L61.36,215.35 L61.83,215.16 L62.30,214.97 L62.77,214.78 L63.24,214.60 L63.71,214.42 L64.18,214.25 L64.66,214.08 L65.13,213.91 L65.61,213.74 L66.09,213.58 L66.57,213.42 L67.05,213.26 L67.53,213.10 L68.01,212.95 L68.49,212.80 L68.97,212.66 L69.46,212.52 L69.94,212.38 L70.43,212.24 L70.91,212.11 L71.40,211.97 L71.89,211.85 L72.38,211.72 L72.86,211.60 L73.35,211.48 L73.84,211.37 L74.33,211.25 L74.83,211.15 L75.32,211.04 L75.81,210.94 L76.30,210.84 L76.80,210.74 L77.29,210.64 L77.78,210.55 L78.28,210.46 L78.77,210.38 L79.27,210.29 L79.77,210.22 L80.26,210.14 L80.76,210.06 L81.26,209.99 L81.75,209.93 L82.25,209.86 L82.75,209.80 L83.25,209.74 L83.74,209.69 L84.24,209.63 L84.74,209.58 L85.24,209.53 L85.74,209.49 L86.24,209.45 L86.74,209.41 L87.24,209.38 L87.74,209.34 L88.24,209.31 L88.74,209.29 L89.24,209.26 L89.74,209.24 L90.24,209.22 L90.74,209.21 L91.24,209.19 L91.73,209.19 L92.23,209.18 L92.73,209.18 L93.23,209.18 L93.73,209.18 L94.23,209.18 L94.73,209.19 L95.23,209.20 L95.73,209.22 L96.23,209.24 L96.73,209.26 L97.22,209.28 L97.72,209.30 L98.22,209.33 L98.72,209.37 L99.21,209.40 L99.71,209.44 L100.20,209.48 L100.70,209.53 L101.20,209.57 L101.69,209.62 L102.19,209.68 L102.68,209.73 L103.17,209.79 L103.67,209.85 L104.16,209.92 L104.65,209.98 L105.14,210.05 L105.63,210.12 L106.13,210.20 L106.62,210.27 L107.11,210.35 L107.60,210.43 L108.08,210.52 L108.57,210.61 L109.06,210.70 L109.55,210.79 L110.03,210.88 L110.52,210.98 L111.01,211.08 L111.49,211.18 L111.97,211.29 L112.46,211.39 L112.94,211.50 L113.42,211.62 L113.90,211.73 L114.38,211.85 L114.86,211.97 L115.34,212.09 L115.82,212.21 L116.30,212.34 L116.78,212.47 L117.25,212.60 L117.73,212.74 L118.20,212.87 L118.68,213.01 L119.15,213.15 L119.63,213.30 L120.10,213.45 L120.57,213.59 L121.04,213.75 L121.51,213.90 L121.98,214.05 L122.44,214.21 L122.91,214.37 L123.38,214.54 L123.84,214.70 L124.31,214.87 L124.77,215.04 L125.23,215.21 L125.69,215.39 L126.15,215.56 L126.61,215.74 L127.07,215.92 L127.53,216.11 L127.99,216.29 L128.44,216.48 L128.90,216.67 L129.35,216.87 L129.81,217.06 L130.26,217.26 L130.71,217.46 L131.16,217.66 L131.61,217.86 L132.06,218.07 L132.50,218.28 L132.95,218.49 L133.39,218.70 L133.84,218.92 L134.28,219.14 L134.72,219.36 L135.16,219.58 L135.60,219.80 L136.04,220.03 L136.48,220.26 L136.91,220.49 L137.35,220.72 L137.78,220.96 L138.22,221.20 L138.65,221.44 L139.08,221.68 L139.51,221.92 L139.94,222.17 L140.36,222.42 L140.79,222.67 L141.21,222.92 L141.64,223.17 L142.06,223.43 L142.48,223.69 L142.90,223.95 L143.32,224.22 L143.73,224.48 L144.15,224.75 L144.56,225.02 L144.98,225.29 L145.39,225.57 L145.80,225.84 L146.21,226.12 L146.61,226.40 L147.02,226.68 L147.42,226.97 L147.83,227.26 L148.23,227.55 L148.63,227.84 L149.03,228.13 L149.43,228.43 L149.82,228.72 L150.22,229.02 L150.61,229.33 L151.00,229.63 L151.39,229.94 L151.78,230.25 L152.17,230.56 L152.55,230.87 L152.94,231.18 L153.32,231.50 L153.70,231.82 L154.08,232.14 L154.45,232.46 L154.83,232.79 L155.20,233.12 L155.58,233.45 L155.95,233.78 L156.32,234.11 L156.68,234.45 L157.05,234.78 L157.41,235.12 L157.77,235.47 L158.13,235.81 L158.49,236.15 L158.85,236.50 L159.20,236.85 L159.56,237.20 L159.91,237.56 L160.26,237.91 L160.60,238.27 L160.95,238.63 L161.29,238.99 L161.64,239.36 L161.97,239.72 L162.31,240.09 L162.65,240.46 L162.98,240.83 L163.31,241.21 L163.64,241.58 L163.97,241.96 L164.30,242.34 L164.62,242.72 L164.94,243.11 L165.26,243.49 L165.58,243.88 L165.89,244.27 L166.21,244.66 L166.52,245.05 L166.83,245.45 L167.13,245.84 L167.44,246.24 L167.74,246.64 L168.04,247.05 L168.34,247.45 L168.63,247.86 L168.92,248.26 L169.21,248.67 L169.50,249.09 L169.79,249.50 L170.07,249.91 L170.35,250.33 L170.63,250.75 L170.91,251.17 L171.18,251.59 L171.45,252.02 L171.73,252.46 L172.02,252.93 L172.32,253.42 L172.63,253.92 L172.93,254.43 L173.23,254.94 L173.52,255.45 L173.82,255.97 L174.11,256.49 L174.39,257.01 L174.66,257.51 L174.92,258.00 L175.16,258.48 L175.40,258.97 L175.65,259.47 L175.89,259.97 L176.12,260.46 L176.35,260.95 L176.57,261.43 L176.79,261.91 L177.00,262.39 L177.22,262.86 L177.43,263.34 L177.65,263.82 L177.86,264.30 L178.08,264.78 L178.29,265.26 L178.51,265.74 L178.72,266.22 L178.94,266.70 L179.16,267.20 L179.39,267.70 L179.62,268.21 L179.86,268.73 L180.10,269.26 L180.35,269.81 L180.61,270.36 L180.86,270.91 L181.12,271.47 L181.38,272.02 L181.63,272.56 L181.88,273.10 L182.13,273.63 L182.37,274.15 L182.61,274.66 L182.85,275.17 L183.09,275.68 L183.34,276.20 L183.58,276.72 L183.83,277.23 L184.09,277.75 L184.35,278.28 L184.62,278.84 L184.92,279.43 L185.20,279.99 L185.49,280.56 L185.82,281.20 L186.23,282.01Z"/>
<path d="M167.35,292.10 L167.09,291.81 L166.72,291.42 L166.43,291.06 L166.20,290.73 L165.98,290.40 L165.76,290.03 L165.50,289.55 L165.25,289.05 L164.96,288.56 L164.67,288.06 L164.44,287.63 L164.21,287.19 L164.00,286.75 L163.78,286.29 L163.56,285.81 L163.34,285.32 L163.12,284.83 L162.89,284.32 L162.66,283.81 L162.43,283.29 L162.19,282.76 L161.95,282.24 L161.71,281.72 L161.46,281.19 L161.20,280.66 L160.94,280.13 L160.67,279.60 L160.39,279.07 L160.11,278.54 L159.82,278.00 L159.53,277.47 L159.22,276.94 L158.92,276.41 L158.60,275.88 L158.29,275.35 L157.96,274.82 L157.64,274.30 L157.30,273.77 L156.97,273.25 L156.63,272.72 L156.29,272.20 L155.94,271.68 L155.59,271.16 L155.24,270.64 L154.89,270.12 L154.54,269.60 L154.18,269.09 L153.82,268.58 L153.46,268.07 L153.10,267.56 L152.74,267.05 L152.38,266.55 L152.01,266.04 L151.64,265.54 L151.27,265.04 L150.90,264.54 L150.53,264.05 L150.16,263.55 L149.78,263.06 L149.41,262.57 L149.03,262.07 L148.65,261.59 L148.26,261.10 L147.88,260.61 L147.49,260.13 L147.10,259.65 L146.71,259.17 L146.32,258.70 L145.93,258.24 L145.53,257.77 L145.13,257.32 L144.74,256.87 L144.33,256.42 L143.93,255.98 L143.52,255.54 L143.09,255.10 L142.65,254.66 L142.21,254.23 L141.76,253.80 L141.30,253.38 L140.84,252.96 L140.37,252.56 L139.89,252.16 L139.42,251.77 L138.94,251.38 L138.46,251.01 L137.98,250.63 L137.49,250.26 L137.00,249.89 L136.50,249.53 L135.99,249.15 L135.48,248.77 L134.96,248.39 L134.44,248.00 L133.91,247.62 L133.37,247.22 L132.81,246.82 L132.24,246.41 L131.65,246.00 L131.05,245.57 L130.43,245.14 L129.79,244.70 L129.12,244.25 L128.45,243.80 L127.76,243.35 L127.04,242.90 L126.31,242.45 L125.57,242.01 L124.81,241.57 L124.05,241.15 L123.27,240.73 L122.48,240.32 L121.69,239.92 L120.89,239.53 L120.08,239.16 L119.27,238.79 L118.46,238.44 L117.64,238.10 L116.81,237.77 L115.98,237.46 L115.14,237.16 L114.30,236.87 L113.46,236.59 L112.61,236.32 L111.76,236.07 L110.91,235.83 L110.05,235.60 L109.19,235.39 L108.32,235.19 L107.46,235.00 L106.59,234.82 L105.72,234.65 L104.84,234.50 L103.96,234.37 L103.09,234.24 L102.21,234.13 L101.32,234.03 L100.44,233.94 L99.56,233.87 L98.67,233.81 L97.79,233.76 L96.90,233.72 L96.01,233.70 L95.13,233.70 L94.24,233.70 L93.35,233.72 L92.47,233.75 L91.58,233.79 L90.70,233.85 L89.82,233.92 L88.93,234.01 L88.05,234.11 L87.17,234.22 L86.30,234.35 L85.42,234.50 L84.55,234.65 L83.68,234.82 L82.82,235.01 L81.96,235.21 L81.10,235.42 L80.24,235.65 L79.39,235.89 L78.54,236.14 L77.70,236.41 L76.87,236.69 L76.03,236.98 L75.21,237.29 L74.38,237.60 L73.56,237.93 L72.75,238.27 L71.95,238.63 L71.14,238.99 L70.35,239.37 L69.56,239.76 L68.78,240.15 L68.00,240.57 L67.23,240.99 L66.46,241.42 L65.71,241.86 L64.96,242.32 L64.21,242.78 L63.48,243.26 L62.75,243.75 L62.03,244.24 L61.31,244.75 L60.61,245.27 L59.91,245.80 L59.22,246.33 L58.54,246.88 L57.87,247.44 L57.21,248.01 L56.55,248.58 L55.90,249.17 L55.26,249.76 L54.64,250.36 L54.01,250.98 L53.40,251.60 L52.80,252.22 L52.20,252.86 L51.62,253.50 L51.04,254.15 L50.47,254.80 L49.91,255.47 L49.35,256.14 L48.81,256.81 L48.27,257.49 L47.74,258.18 L47.22,258.88 L46.71,259.58 L46.21,260.29 L45.72,261.01 L45.23,261.73 L44.76,262.45 L44.29,263.19 L43.84,263.93 L43.40,264.68 L42.97,265.43 L42.54,266.19 L42.13,266.96 L41.74,267.73 L41.35,268.51 L40.97,269.29 L40.61,270.08 L40.26,270.88 L39.92,271.68 L39.59,272.48 L39.27,273.29 L38.96,274.11 L38.67,274.93 L38.39,275.75 L38.12,276.58 L37.86,277.41 L37.62,278.24 L37.38,279.08 L37.16,279.93 L36.96,280.77 L36.76,281.62 L36.58,282.47 L36.41,283.33 L36.25,284.18 L36.10,285.04 L35.97,285.90 L35.85,286.77 L35.75,287.63 L35.65,288.50 L35.57,289.37 L35.50,290.24 L35.45,291.11 L35.41,291.98 L35.38,292.85 L35.37,293.72 L35.36,294.60 L35.38,295.47 L35.40,296.34 L35.44,297.21 L35.49,298.08 L35.56,298.95 L35.63,299.82 L35.72,300.69 L35.83,301.56 L35.94,302.42 L36.07,303.29 L36.22,304.15 L36.37,305.01 L36.54,305.86 L36.72,306.72 L36.91,307.57 L37.12,308.42 L37.33,309.26 L37.56,310.10 L37.81,310.94 L38.06,311.78 L38.33,312.61 L38.61,313.43 L38.90,314.26 L39.20,315.07 L39.52,315.89 L39.85,316.70 L40.18,317.50 L40.54,318.30 L40.90,319.09 L41.27,319.88 L41.66,320.67 L42.06,321.44 L42.47,322.21 L42.89,322.98 L43.32,323.74 L43.76,324.49 L44.21,325.24 L44.68,325.98 L45.15,326.71 L45.64,327.43 L46.13,328.15 L46.64,328.86 L47.16,329.57 L47.69,330.26 L48.22,330.95 L48.77,331.63 L49.33,332.30 L49.90,332.96 L50.47,333.62 L51.06,334.26 L51.66,334.90 L52.26,335.53 L52.88,336.15 L53.50,336.76 L54.14,337.36 L54.78,337.95 L55.43,338.54 L56.09,339.11 L56.75,339.67 L57.43,340.23 L58.11,340.77 L58.80,341.30 L59.50,341.83 L60.21,342.34 L60.92,342.84 L61.64,343.33 L62.37,343.81 L63.11,344.28 L63.85,344.74 L64.60,345.19 L65.36,345.63 L66.12,346.06 L66.89,346.47 L67.66,346.87 L68.44,347.27 L69.23,347.65 L70.02,348.02 L70.81,348.37 L71.62,348.72 L72.42,349.05 L73.23,349.38 L74.05,349.69 L74.87,349.98 L75.70,350.27 L76.53,350.54 L77.36,350.80 L78.20,351.05 L79.04,351.29 L79.88,351.52 L80.73,351.73 L81.58,351.93 L82.43,352.11 L83.29,352.29 L84.14,352.45 L85.01,352.60 L85.87,352.74 L86.73,352.86 L87.60,352.97 L88.47,353.07 L89.34,353.16 L90.21,353.23 L91.08,353.29 L91.95,353.33 L92.82,353.37 L93.69,353.39 L94.57,353.40 L95.44,353.39 L96.31,353.37 L97.19,353.34 L98.06,353.30 L98.93,353.24 L99.80,353.17 L100.67,353.09 L101.54,353.00 L102.41,352.89 L103.27,352.77 L104.13,352.63 L104.99,352.49 L105.85,352.33 L106.71,352.16 L107.56,351.97 L108.41,351.78 L109.26,351.57 L110.10,351.34 L110.95,351.11 L111.78,350.86 L112.62,350.61 L113.45,350.33 L114.27,350.05 L115.09,349.76 L115.91,349.45 L116.72,349.13 L117.53,348.80 L118.33,348.46 L119.13,348.10 L119.92,347.74 L120.71,347.36 L121.49,346.97 L122.27,346.57 L123.04,346.16 L123.80,345.73 L124.56,345.30 L125.31,344.85 L126.05,344.40 L126.79,343.93 L127.52,343.45 L128.24,342.97 L128.96,342.47 L129.67,341.96 L130.37,341.44 L131.06,340.91 L131.75,340.37 L132.43,339.82 L133.10,339.26 L133.76,338.69 L134.41,338.11 L135.05,337.52 L135.69,336.92 L136.32,336.32 L136.93,335.70 L137.54,335.08 L138.14,334.44 L138.72,333.81 L139.29,333.17 L139.85,332.52 L140.39,331.87 L140.92,331.23 L141.43,330.60 L141.92,329.97 L142.40,329.35 L142.87,328.74 L143.33,328.13 L143.78,327.53 L144.21,326.94 L144.63,326.38 L145.04,325.82 L145.43,325.28 L145.82,324.75 L146.20,324.24 L146.57,323.73 L146.94,323.23 L147.30,322.74 L147.66,322.26 L148.02,321.77 L148.39,321.28 L148.75,320.78 L149.12,320.28 L149.47,319.78 L149.82,319.29 L150.16,318.80 L150.49,318.31 L150.82,317.81 L151.15,317.31 L151.48,316.82 L151.80,316.32 L152.11,315.82 L152.42,315.33 L152.72,314.83 L153.02,314.34 L153.31,313.86 L153.60,313.37 L153.88,312.90 L154.15,312.43 L154.42,311.97 L154.69,311.50 L154.97,311.03 L155.25,310.55 L155.54,310.07 L155.82,309.58 L156.11,309.10 L156.40,308.61 L156.70,308.12 L156.99,307.63 L157.29,307.14 L157.59,306.65 L157.89,306.16 L158.19,305.68 L158.50,305.19 L158.81,304.70 L159.13,304.20 L159.45,303.71 L159.78,303.22 L160.10,302.75 L160.42,302.29 L160.74,301.84 L161.06,301.42 L161.39,301.01 L161.74,300.60 L162.14,300.15 L162.56,299.71 L162.93,299.25 L163.31,298.80 L163.66,298.42 L163.99,298.11 L164.32,297.84 L164.76,297.52 L165.32,297.17 L165.73,296.92 L163.07,292.68 L162.57,293.00 L161.90,293.42 L161.28,293.87 L160.67,294.37 L160.12,294.90 L159.60,295.47 L159.18,295.97 L158.80,296.46 L158.39,296.90 L157.98,297.37 L157.55,297.89 L157.14,298.42 L156.76,298.95 L156.39,299.47 L156.04,300.00 L155.69,300.53 L155.36,301.06 L155.02,301.59 L154.69,302.12 L154.38,302.63 L154.07,303.14 L153.77,303.64 L153.46,304.15 L153.16,304.65 L152.86,305.15 L152.57,305.65 L152.27,306.15 L151.98,306.65 L151.69,307.14 L151.40,307.63 L151.11,308.12 L150.83,308.60 L150.55,309.08 L150.28,309.54 L150.01,310.01 L149.74,310.46 L149.47,310.93 L149.19,311.39 L148.91,311.86 L148.63,312.32 L148.34,312.79 L148.04,313.26 L147.75,313.72 L147.44,314.19 L147.14,314.65 L146.82,315.12 L146.51,315.58 L146.19,316.04 L145.86,316.49 L145.53,316.95 L145.19,317.41 L144.84,317.88 L144.48,318.36 L144.12,318.83 L143.75,319.30 L143.38,319.78 L143.00,320.27 L142.62,320.77 L142.23,321.28 L141.84,321.80 L141.45,322.33 L141.05,322.86 L140.64,323.41 L140.22,323.96 L139.79,324.53 L139.35,325.11 L138.90,325.70 L138.44,326.29 L137.98,326.89 L137.51,327.48 L137.04,328.08 L136.54,328.68 L136.04,329.28 L135.53,329.87 L135.01,330.46 L134.48,331.04 L133.93,331.62 L133.38,332.19 L132.81,332.75 L132.24,333.31 L131.65,333.86 L131.06,334.40 L130.47,334.93 L129.86,335.45 L129.25,335.96 L128.63,336.46 L128.00,336.96 L127.36,337.44 L126.72,337.92 L126.07,338.38 L125.42,338.84 L124.75,339.29 L124.08,339.72 L123.41,340.15 L122.73,340.57 L122.04,340.97 L121.34,341.37 L120.64,341.75 L119.94,342.13 L119.23,342.50 L118.51,342.85 L117.79,343.19 L117.07,343.53 L116.33,343.85 L115.60,344.16 L114.86,344.46 L114.11,344.75 L113.36,345.03 L112.61,345.30 L111.86,345.55 L111.10,345.80 L110.33,346.03 L109.56,346.26 L108.79,346.47 L108.02,346.67 L107.24,346.86 L106.47,347.03 L105.68,347.20 L104.90,347.35 L104.12,347.50 L103.33,347.63 L102.54,347.75 L101.75,347.86 L100.95,347.95 L100.16,348.04 L99.36,348.11 L98.57,348.17 L97.77,348.22 L96.97,348.26 L96.18,348.29 L95.38,348.30 L94.58,348.31 L93.78,348.30 L92.98,348.28 L92.18,348.25 L91.39,348.20 L90.59,348.15 L89.80,348.08 L89.00,348.01 L88.21,347.92 L87.42,347.82 L86.62,347.70 L85.84,347.58 L85.05,347.44 L84.26,347.30 L83.48,347.14 L82.70,346.97 L81.92,346.79 L81.15,346.59 L80.38,346.39 L79.61,346.17 L78.84,345.95 L78.08,345.71 L77.32,345.46 L76.57,345.20 L75.82,344.93 L75.07,344.64 L74.33,344.35 L73.59,344.04 L72.85,343.73 L72.13,343.40 L71.40,343.07 L70.68,342.72 L69.97,342.36 L69.26,341.99 L68.56,341.61 L67.86,341.22 L67.17,340.82 L66.48,340.42 L65.80,340.00 L65.13,339.57 L64.46,339.13 L63.80,338.68 L63.15,338.22 L62.50,337.75 L61.86,337.27 L61.23,336.79 L60.60,336.29 L59.98,335.78 L59.37,335.27 L58.77,334.75 L58.17,334.21 L57.59,333.67 L57.01,333.12 L56.44,332.57 L55.87,332.00 L55.32,331.42 L54.77,330.84 L54.23,330.25 L53.70,329.65 L53.18,329.05 L52.67,328.43 L52.17,327.81 L51.68,327.18 L51.19,326.55 L50.72,325.90 L50.26,325.25 L49.80,324.60 L49.36,323.93 L48.92,323.26 L48.49,322.59 L48.08,321.91 L47.67,321.22 L47.28,320.52 L46.89,319.82 L46.52,319.12 L46.15,318.41 L45.80,317.69 L45.46,316.97 L45.12,316.24 L44.80,315.51 L44.49,314.78 L44.19,314.04 L43.90,313.29 L43.62,312.54 L43.35,311.79 L43.10,311.03 L42.85,310.27 L42.62,309.51 L42.39,308.74 L42.18,307.97 L41.98,307.20 L41.79,306.42 L41.62,305.64 L41.45,304.86 L41.30,304.08 L41.15,303.29 L41.02,302.50 L40.90,301.71 L40.79,300.92 L40.70,300.13 L40.61,299.33 L40.54,298.54 L40.47,297.74 L40.42,296.94 L40.38,296.14 L40.35,295.35 L40.34,294.55 L40.33,293.75 L40.34,292.95 L40.35,292.15 L40.38,291.35 L40.42,290.55 L40.47,289.75 L40.53,288.95 L40.61,288.16 L40.69,287.36 L40.79,286.57 L40.90,285.78 L41.02,284.98 L41.15,284.19 L41.29,283.41 L41.44,282.62 L41.61,281.84 L41.79,281.06 L41.98,280.28 L42.18,279.50 L42.39,278.73 L42.61,277.96 L42.85,277.19 L43.09,276.43 L43.35,275.67 L43.62,274.92 L43.90,274.16 L44.19,273.42 L44.49,272.67 L44.80,271.93 L45.12,271.20 L45.46,270.47 L45.80,269.75 L46.16,269.03 L46.52,268.31 L46.90,267.60 L47.29,266.90 L47.68,266.20 L48.09,265.51 L48.51,264.82 L48.94,264.14 L49.38,263.47 L49.83,262.81 L50.29,262.15 L50.77,261.50 L51.25,260.86 L51.75,260.23 L52.25,259.60 L52.77,258.99 L53.30,258.38 L53.83,257.79 L54.38,257.20 L54.94,256.62 L55.50,256.05 L56.08,255.49 L56.67,254.95 L57.26,254.41 L57.86,253.88 L58.47,253.36 L59.09,252.85 L59.72,252.35 L60.35,251.86 L60.99,251.38 L61.63,250.91 L62.29,250.45 L62.95,250.00 L63.61,249.56 L64.28,249.13 L64.96,248.71 L65.64,248.30 L66.33,247.90 L67.03,247.51 L67.73,247.13 L68.43,246.76 L69.14,246.41 L69.86,246.06 L70.58,245.72 L71.30,245.40 L72.03,245.08 L72.76,244.78 L73.50,244.48 L74.24,244.20 L74.98,243.93 L75.73,243.67 L76.48,243.42 L77.23,243.19 L77.99,242.96 L78.75,242.74 L79.51,242.54 L80.28,242.34 L81.04,242.16 L81.81,241.99 L82.58,241.82 L83.36,241.67 L84.13,241.53 L84.91,241.39 L85.68,241.27 L86.46,241.16 L87.24,241.05 L88.02,240.96 L88.80,240.88 L89.59,240.81 L90.37,240.75 L91.15,240.69 L91.94,240.65 L92.72,240.62 L93.51,240.61 L94.29,240.60 L95.08,240.60 L95.86,240.62 L96.65,240.65 L97.43,240.69 L98.22,240.74 L99.00,240.80 L99.78,240.87 L100.56,240.96 L101.34,241.05 L102.11,241.16 L102.89,241.28 L103.66,241.41 L104.44,241.55 L105.20,241.70 L105.97,241.87 L106.74,242.04 L107.50,242.23 L108.26,242.43 L109.01,242.64 L109.76,242.86 L110.51,243.09 L111.26,243.33 L112.00,243.58 L112.74,243.85 L113.47,244.12 L114.20,244.41 L114.93,244.70 L115.65,245.01 L116.36,245.33 L117.08,245.66 L117.78,245.99 L118.48,246.34 L119.18,246.70 L119.87,247.07 L120.55,247.45 L121.22,247.83 L121.88,248.22 L122.53,248.61 L123.18,249.03 L123.82,249.44 L124.44,249.85 L125.06,250.27 L125.67,250.69 L126.27,251.11 L126.85,251.52 L127.42,251.93 L127.98,252.33 L128.53,252.73 L129.06,253.12 L129.58,253.51 L130.09,253.89 L130.60,254.27 L131.11,254.65 L131.61,255.02 L132.10,255.40 L132.57,255.75 L133.03,256.10 L133.48,256.45 L133.91,256.79 L134.33,257.12 L134.73,257.46 L135.13,257.80 L135.52,258.14 L135.91,258.48 L136.29,258.83 L136.66,259.18 L137.02,259.54 L137.37,259.90 L137.72,260.26 L138.07,260.63 L138.40,261.01 L138.74,261.39 L139.07,261.79 L139.42,262.20 L139.76,262.61 L140.10,263.04 L140.45,263.48 L140.80,263.92 L141.15,264.37 L141.50,264.83 L141.85,265.30 L142.20,265.76 L142.55,266.23 L142.90,266.71 L143.25,267.19 L143.60,267.66 L143.94,268.14 L144.29,268.63 L144.64,269.11 L144.98,269.60 L145.33,270.09 L145.67,270.58 L146.01,271.07 L146.35,271.56 L146.69,272.05 L147.03,272.54 L147.36,273.03 L147.70,273.53 L148.03,274.02 L148.36,274.52 L148.69,275.02 L149.01,275.51 L149.33,276.01 L149.65,276.51 L149.97,277.00 L150.28,277.49 L150.58,277.98 L150.88,278.47 L151.17,278.96 L151.46,279.44 L151.74,279.92 L152.02,280.40 L152.29,280.87 L152.55,281.35 L152.81,281.82 L153.06,282.29 L153.31,282.76 L153.55,283.24 L153.79,283.71 L154.02,284.18 L154.25,284.66 L154.47,285.13 L154.70,285.60 L154.92,286.08 L155.14,286.58 L155.36,287.08 L155.59,287.58 L155.81,288.09 L156.04,288.61 L156.28,289.14 L156.53,289.68 L156.79,290.23 L157.07,290.79 L157.36,291.36 L157.68,291.94 L157.96,292.44 L158.25,292.94 L158.53,293.46 L158.83,294.01 L159.19,294.63 L159.61,295.28 L160.09,295.94 L160.58,296.54 L161.07,297.09 L161.45,297.50Z"/>
<path d="M164.24,296.88 L164.37,296.79 L164.52,296.68 L164.68,296.57 L164.87,296.44 L165.09,296.30 L165.32,296.14 L165.58,295.96 L165.86,295.77 L166.17,295.56 L166.50,295.33 L166.86,295.08 L167.25,294.81 L167.67,294.51 L168.13,294.18 L168.60,293.84 L169.09,293.47 L169.61,293.10 L170.14,292.71 L170.69,292.31 L171.25,291.91 L171.83,291.51 L172.42,291.11 L173.02,290.72 L173.64,290.33 L174.28,289.93 L174.97,289.51 L175.69,289.07 L176.43,288.63 L177.19,288.18 L177.96,287.74 L178.73,287.30 L179.49,286.88 L180.25,286.47 L180.98,286.09 L181.69,285.73 L182.37,285.41 L183.04,285.12 L183.71,284.84 L184.38,284.58 L185.04,284.33 L185.69,284.10 L186.34,283.88 L186.97,283.68 L187.59,283.49 L188.20,283.32 L188.79,283.16 L189.35,283.02 L189.89,282.89 L190.38,282.79 L190.81,282.71 L191.19,282.65 L191.54,282.60 L191.87,282.57 L192.21,282.55 L192.57,282.54 L192.96,282.53 L193.40,282.53 L193.89,282.52 L194.44,282.51 L195.05,282.50 L195.75,282.48 L196.55,282.47 L197.44,282.46 L198.38,282.46 L199.36,282.46 L200.34,282.47 L201.31,282.47 L202.23,282.48 L203.08,282.49 L203.85,282.49 L204.49,282.50 L204.99,282.50 L205.01,278.10 L204.52,278.10 L203.88,278.09 L203.12,278.09 L202.26,278.08 L201.33,278.07 L200.36,278.07 L199.37,278.06 L198.38,278.06 L197.41,278.06 L196.50,278.07 L195.67,278.08 L194.95,278.10 L194.33,278.12 L193.79,278.14 L193.29,278.15 L192.83,278.17 L192.38,278.18 L191.93,278.21 L191.48,278.25 L191.01,278.30 L190.53,278.37 L190.02,278.46 L189.49,278.57 L188.91,278.71 L188.30,278.86 L187.67,279.03 L187.03,279.21 L186.36,279.41 L185.68,279.62 L184.99,279.85 L184.28,280.10 L183.56,280.36 L182.84,280.64 L182.10,280.94 L181.37,281.26 L180.63,281.59 L179.87,281.94 L179.09,282.32 L178.29,282.73 L177.49,283.15 L176.68,283.59 L175.87,284.04 L175.07,284.49 L174.28,284.94 L173.51,285.39 L172.77,285.83 L172.05,286.26 L171.36,286.67 L170.70,287.08 L170.05,287.50 L169.41,287.93 L168.79,288.35 L168.19,288.76 L167.61,289.17 L167.06,289.56 L166.54,289.93 L166.04,290.29 L165.58,290.62 L165.15,290.92 L164.75,291.19 L164.38,291.44 L164.03,291.67 L163.70,291.89 L163.40,292.08 L163.12,292.26 L162.87,292.42 L162.64,292.57 L162.42,292.71 L162.23,292.83 L162.05,292.94 L161.90,293.04 L161.76,293.12Z"/>
<rect x="186" y="278.1" width="186" height="4.4"/>
<rect x="211" y="305.3" width="168" height="9.2"/>
<path d="M368.58,282.46 L368.83,282.51 L369.12,282.55 L369.47,282.60 L369.81,282.65 L370.17,282.70 L370.51,282.75 L370.84,282.82 L371.15,282.89 L371.41,282.97 L371.61,283.04 L371.76,283.12 L371.89,283.20 L372.01,283.32 L372.16,283.47 L372.32,283.66 L372.48,283.87 L372.64,284.11 L372.80,284.37 L372.96,284.67 L373.12,285.00 L373.28,285.36 L373.44,285.76 L373.59,286.18 L373.74,286.63 L373.88,287.11 L374.00,287.64 L374.12,288.21 L374.23,288.83 L374.33,289.49 L374.44,290.19 L374.54,290.91 L374.64,291.65 L374.75,292.41 L374.87,293.18 L375.00,293.95 L375.14,294.72 L375.29,295.48 L375.45,296.26 L375.61,297.04 L375.78,297.84 L375.95,298.64 L376.13,299.43 L376.30,300.23 L376.47,301.01 L376.64,301.78 L376.80,302.53 L376.95,303.26 L377.10,303.96 L377.24,304.67 L377.38,305.39 L377.53,306.12 L377.67,306.85 L377.81,307.57 L377.94,308.27 L378.07,308.93 L378.19,309.56 L378.30,310.13 L378.39,310.65 L378.48,311.09 L378.54,311.45 L383.06,310.55 L382.98,310.20 L382.89,309.76 L382.79,309.25 L382.67,308.68 L382.54,308.05 L382.41,307.38 L382.26,306.68 L382.12,305.96 L381.96,305.22 L381.81,304.48 L381.65,303.75 L381.50,303.04 L381.35,302.32 L381.18,301.58 L381.01,300.82 L380.83,300.04 L380.65,299.26 L380.47,298.47 L380.29,297.68 L380.11,296.89 L379.94,296.11 L379.77,295.34 L379.61,294.60 L379.46,293.88 L379.32,293.18 L379.20,292.46 L379.08,291.73 L378.96,291.00 L378.85,290.26 L378.74,289.53 L378.62,288.80 L378.50,288.07 L378.36,287.36 L378.21,286.67 L378.04,286.00 L377.86,285.37 L377.66,284.78 L377.46,284.23 L377.25,283.70 L377.03,283.19 L376.79,282.71 L376.53,282.24 L376.26,281.79 L375.97,281.36 L375.66,280.95 L375.32,280.56 L374.94,280.18 L374.51,279.80 L374.02,279.45 L373.48,279.15 L372.92,278.91 L372.38,278.73 L371.86,278.59 L371.36,278.49 L370.90,278.40 L370.48,278.33 L370.12,278.28 L369.83,278.23 L369.59,278.18 L369.42,278.14Z"/>
<path d="M376,305.3 L384,301.8 L384,309.2 L379,314.5 L376,314.5Z"/>
<path d="M373.97,285.50 L375.15,285.54 L376.52,285.58 L378.07,285.63 L379.82,285.68 L381.74,285.74 L383.84,285.80 L386.12,285.86 L388.56,285.92 L391.18,285.98 L393.95,286.04 L396.89,286.10 L399.98,286.15 L403.31,286.19 L406.93,286.22 L410.80,286.26 L414.88,286.29 L419.12,286.32 L423.49,286.36 L427.94,286.39 L432.43,286.42 L436.93,286.45 L441.38,286.48 L445.74,286.52 L449.99,286.55 L454.20,286.58 L458.47,286.61 L462.79,286.65 L467.14,286.68 L471.48,286.71 L475.80,286.74 L480.08,286.77 L484.28,286.80 L488.40,286.84 L492.40,286.87 L496.27,286.91 L499.98,286.95 L503.56,286.99 L507.05,287.02 L510.45,287.06 L513.76,287.10 L516.97,287.14 L520.10,287.18 L523.14,287.23 L526.08,287.27 L528.94,287.32 L531.70,287.38 L534.37,287.44 L536.96,287.50 L539.44,287.56 L541.83,287.63 L544.11,287.71 L546.31,287.79 L548.41,287.87 L550.43,287.95 L552.36,288.04 L554.21,288.13 L555.99,288.22 L557.70,288.31 L559.33,288.41 L560.90,288.50 L562.37,288.59 L563.69,288.68 L564.90,288.77 L566.02,288.86 L567.06,288.95 L568.04,289.04 L568.98,289.14 L569.90,289.24 L570.83,289.35 L571.77,289.47 L572.76,289.60 L573.80,289.74 L574.87,289.89 L575.95,290.04 L577.02,290.21 L578.09,290.38 L579.17,290.56 L580.25,290.75 L581.32,290.95 L582.40,291.14 L583.48,291.35 L584.56,291.55 L585.64,291.76 L586.72,291.97 L587.82,292.18 L588.93,292.40 L590.06,292.63 L591.20,292.86 L592.33,293.10 L593.46,293.34 L594.57,293.58 L595.66,293.82 L596.73,294.06 L597.75,294.29 L598.74,294.53 L599.67,294.76 L600.58,294.98 L601.49,295.21 L602.39,295.45 L603.27,295.69 L604.13,295.94 L604.96,296.18 L605.74,296.41 L606.47,296.62 L607.14,296.82 L607.74,296.99 L608.26,297.14 L608.69,297.25 L609.31,295.35 L608.90,295.19 L608.40,295.00 L607.82,294.78 L607.16,294.53 L606.44,294.27 L605.67,293.99 L604.85,293.70 L603.98,293.40 L603.09,293.10 L602.18,292.80 L601.26,292.52 L600.33,292.24 L599.38,291.99 L598.38,291.74 L597.34,291.48 L596.26,291.22 L595.16,290.96 L594.04,290.70 L592.91,290.44 L591.77,290.19 L590.63,289.94 L589.49,289.70 L588.37,289.46 L587.28,289.23 L586.19,289.01 L585.10,288.79 L584.02,288.57 L582.93,288.36 L581.84,288.15 L580.75,287.95 L579.66,287.75 L578.57,287.56 L577.48,287.37 L576.39,287.19 L575.29,287.02 L574.20,286.86 L573.15,286.72 L572.15,286.58 L571.19,286.45 L570.25,286.33 L569.30,286.22 L568.34,286.11 L567.34,286.00 L566.28,285.90 L565.14,285.80 L563.91,285.71 L562.57,285.61 L561.10,285.50 L559.52,285.39 L557.88,285.29 L556.16,285.18 L554.38,285.07 L552.52,284.96 L550.57,284.86 L548.55,284.76 L546.43,284.66 L544.23,284.56 L541.93,284.47 L539.54,284.38 L537.04,284.30 L534.45,284.23 L531.77,284.16 L529.00,284.10 L526.14,284.04 L523.19,283.98 L520.15,283.93 L517.02,283.88 L513.80,283.83 L510.49,283.79 L507.09,283.74 L503.60,283.70 L500.02,283.65 L496.31,283.61 L492.43,283.57 L488.43,283.54 L484.31,283.50 L480.10,283.47 L475.82,283.44 L471.50,283.41 L467.16,283.38 L462.82,283.35 L458.50,283.31 L454.22,283.28 L450.01,283.25 L445.77,283.22 L441.40,283.18 L436.95,283.15 L432.46,283.12 L427.96,283.09 L423.51,283.06 L419.14,283.02 L414.90,282.99 L410.83,282.96 L406.96,282.92 L403.34,282.89 L400.02,282.85 L396.93,282.82 L394.00,282.79 L391.23,282.76 L388.62,282.72 L386.18,282.69 L383.91,282.65 L381.81,282.62 L379.89,282.58 L378.15,282.56 L376.59,282.53 L375.21,282.51 L374.03,282.50Z"/>
<path d="M378.00,302.20 L420.00,301.70 L450.00,301.50 L540.00,301.40 L561.00,300.50 L587.00,298.00 L609.00,296.30 L609.00,296.30 L587.00,303.00 L561.00,307.00 L540.00,308.80 L450.00,309.00 L384.00,309.40Z"/>
<path d="M383.00,284.75 L386.20,276.20 Q387.00,274.40 387.90,276.20 Q390.20,281.25 393.00,284.75Z"/>
<path d="M399.50,285.03 L402.70,276.20 Q403.50,274.40 404.40,276.20 Q406.70,281.53 409.50,285.03Z"/>
<path d="M416.20,285.16 L419.40,276.20 Q420.20,274.40 421.10,276.20 Q423.40,281.66 426.20,285.16Z"/>
<path d="M433.00,285.30 L436.20,276.20 Q437.00,274.40 437.90,276.20 Q440.20,281.80 443.00,285.30Z"/>
<path d="M449.80,285.43 L453.00,276.20 Q453.80,274.40 454.70,276.20 Q457.00,281.93 459.80,285.43Z"/>
<path d="M466.50,285.56 L469.70,276.20 Q470.50,274.40 471.40,276.20 Q473.70,282.06 476.50,285.56Z"/>
<path d="M483.40,285.70 L486.60,276.20 Q487.40,274.40 488.30,276.20 Q490.60,282.20 493.40,285.70Z"/>
<path d="M500.30,285.87 L503.50,276.20 Q504.30,274.40 505.20,276.20 Q507.50,282.37 510.30,285.87Z"/>
<path d="M517.20,286.14 L520.40,276.20 Q521.20,274.40 522.10,276.20 Q524.40,282.64 527.20,286.14Z"/>
<path d="M533.80,286.44 L537.00,277.20 Q537.80,275.40 538.70,277.20 Q541.00,282.94 543.80,286.44Z"/>
<path d="M550.50,287.20 L553.70,278.60 Q554.50,276.80 555.40,278.60 Q557.70,283.70 560.50,287.20Z"/>
<path d="M566.30,288.43 L569.50,281.80 Q570.30,280.00 571.20,281.80 Q573.50,284.93 576.30,288.43Z"/>
<path d="M581.30,290.80 L584.50,285.10 Q585.30,283.30 586.20,285.10 Q588.50,287.30 591.30,290.80Z"/>
<path d="M392.10,308.00 L393.30,316.50 Q396.20,310.60 400.70,308.00Z"/>
<path d="M409.10,307.80 L410.30,316.30 Q413.20,310.40 417.70,307.80Z"/>
<path d="M425.70,307.70 L426.90,316.20 Q429.80,310.30 434.30,307.70Z"/>
<path d="M442.50,307.60 L443.70,316.10 Q446.60,310.20 451.10,307.60Z"/>
<path d="M459.20,307.50 L460.40,316.00 Q463.30,310.10 467.80,307.50Z"/>
<path d="M475.70,307.50 L476.90,316.00 Q479.80,310.10 484.30,307.50Z"/>
<path d="M492.30,307.40 L493.50,315.90 Q496.40,310.00 500.90,307.40Z"/>
<path d="M508.90,307.30 L510.10,315.80 Q513.00,309.90 517.50,307.30Z"/>
<path d="M525.60,307.10 L526.80,315.60 Q529.70,309.70 534.20,307.10Z"/>
<path d="M542.20,306.70 L543.40,315.20 Q546.30,309.30 550.80,306.70Z"/>
<path d="M558.20,303.50 L559.40,312.00 Q562.30,306.10 566.80,303.50Z"/>
<path d="M573.80,300.10 L575.00,308.60 Q577.90,302.70 582.40,300.10Z"/>
<path d="M589.50,296.50 L590.70,305.00 Q593.60,299.10 598.10,296.50Z"/>
<path d="M390.00,284.31 Q393.60,293.56 394.50,302.80" fill="none" stroke="#1d1d1b" stroke-width="3.8"/>
<path d="M406.50,284.55 Q410.10,293.58 411.00,302.61" fill="none" stroke="#1d1d1b" stroke-width="3.8"/>
<path d="M423.20,284.69 Q426.80,293.57 427.70,302.45" fill="none" stroke="#1d1d1b" stroke-width="3.8"/>
<path d="M440.00,284.82 Q443.60,293.58 444.50,302.34" fill="none" stroke="#1d1d1b" stroke-width="3.8"/>
<path d="M456.80,284.95 Q460.40,293.62 461.30,302.29" fill="none" stroke="#1d1d1b" stroke-width="3.8"/>
<path d="M473.50,285.09 Q477.10,293.68 478.00,302.27" fill="none" stroke="#1d1d1b" stroke-width="3.8"/>
<path d="M490.40,285.22 Q494.00,293.74 494.90,302.25" fill="none" stroke="#1d1d1b" stroke-width="3.8"/>
<path d="M507.30,285.42 Q510.90,293.82 511.80,302.23" fill="none" stroke="#1d1d1b" stroke-width="3.8"/>
<path d="M524.20,285.69 Q527.80,293.95 528.70,302.21" fill="none" stroke="#1d1d1b" stroke-width="3.8"/>
<path d="M540.80,286.07 Q544.40,294.02 545.30,301.97" fill="none" stroke="#1d1d1b" stroke-width="3.8"/>
<path d="M557.50,286.84 Q561.10,294.02 562.00,301.20" fill="none" stroke="#1d1d1b" stroke-width="3.8"/>
<path d="M573.30,288.23 Q576.90,293.96 577.80,299.68" fill="none" stroke="#1d1d1b" stroke-width="3.8"/>
<path d="M588.30,290.89 Q591.90,294.62 592.80,298.35" fill="none" stroke="#1d1d1b" stroke-width="3.8"/>
<rect x="192.7" y="326.4" width="3.6" height="73.4"/>
<rect x="606.7" y="308.8" width="3.8" height="90.7"/>
<rect x="200" y="393.0" width="400" height="3.5"/>
<path d="M195.60,394.70 L231.40,384.90 L231.40,404.40Z"/>
<path d="M606.70,394.70 L570.60,384.90 L570.60,404.40Z"/>
<path d="M264.50,237.50 L284.10,237.50 L274.30,274.30Z"/>
<path d="M274.40,316.50 L264.50,351.90 L284.10,351.90Z"/>
<path d="M131.00,257.00 L100.59,275.38 L114.41,288.42Z"/>
<path d="M55.00,333.30 L86.64,315.70 L73.36,302.10Z"/>
<path d="M110,279.5 L78,311" fill="none" stroke="#1d1d1b" stroke-width="3.5"/>
</g>
<g fill="#1d1d1b" fill-rule="evenodd">
<path d="M382.9,386.5 L398.2,348 L404.7,348 L420.4,386.5 L415.2,386.5 L410.5,375 L392.6,375 L388,386.5 Z M401.5,352.9 L409.2,371.8 L393.9,371.8 Z"/>
<path d="M289.3,192.1 C286,191.3 283,191 279.5,191 C268,191 260.9,199.5 260.9,210.5 C260.9,222 268.5,229.9 279.5,229.9 C283,229.9 286.5,229.4 289.3,228.8 L289.3,224.6 C286.5,225.2 283.5,225.4 280,225.4 C271,225.4 266.5,219 266.5,210.5 C266.5,201.5 271.5,195.8 280,195.8 C283.5,195.8 286.5,196.3 289.3,197 Z"/>
<path d="M103.2,297.6 L114,297.6 C120.5,297.6 124.4,300.8 124.4,306.5 C124.4,310.8 121.9,313.8 118.6,315.6 C123.8,316.8 127.8,320 127.8,325.5 C127.8,332 122.6,335.8 114.5,335.8 L103.2,335.8 Z M107.8,301.7 L113.5,301.7 C117.9,301.7 120.2,303.3 120.2,306.9 C120.2,310.9 117.3,314.1 112.5,314.1 L107.8,314.1 Z M107.8,317.9 L113.5,317.9 C119.5,317.9 122.8,320.7 122.8,325.6 C122.8,329.8 119.6,331.5 114,331.5 L107.8,331.5 Z"/>
</g>
</svg>
</body></html>
